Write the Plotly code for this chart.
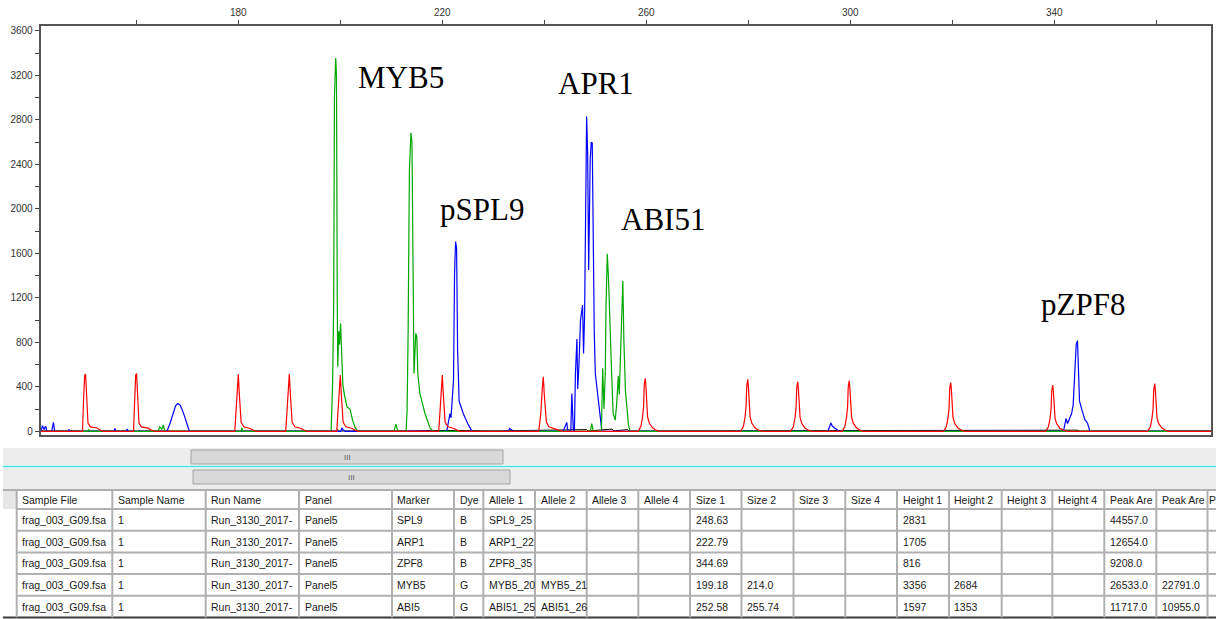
import plotly.graph_objects as go

W, H = 1216, 619

# ---------------- electropherogram data (size in bp, height in RFU) ----------------
red_size = [141.3,
    149.45, 149.67, 149.87, 150.05, 150.25, 150.4, 150.52, 151.0, 152.3, 153.0, 153.6,
    159.45, 159.67, 159.87, 160.05, 160.25, 160.4, 160.52, 161.0, 162.3, 163.0, 163.6,
    179.3, 179.6, 179.85, 180.0, 180.2, 180.35, 180.55, 181.1, 182.3, 183.0, 183.6,
    189.3, 189.6, 189.85, 190.0, 190.2, 190.35, 190.55, 191.1, 192.3, 193.0, 193.6,
    199.3, 199.6, 199.85, 200.0, 200.2, 200.35, 200.55, 201.1, 202.3, 203.0, 203.6,
    219.3, 219.6, 219.85, 220.0, 220.2, 220.35, 220.55, 221.1, 222.3, 223.0, 223.6,
    238.9, 239.3, 239.6, 239.8, 240.0, 240.2, 240.4, 240.9, 242.0, 242.8, 243.5,
    258.4, 258.95, 259.27, 259.47, 259.6, 259.8, 259.92, 260.06, 260.25, 260.58, 261.2, 261.9, 262.55,
    278.5, 279.05, 279.37, 279.57, 279.7, 279.9, 280.02, 280.16, 280.35, 280.68, 281.3, 282.0, 282.65,
    288.3, 288.85, 289.17, 289.37, 289.5, 289.7, 289.82, 289.96, 290.15, 290.48, 291.1, 291.8, 292.45,
    298.4, 298.95, 299.27, 299.47, 299.6, 299.8, 299.92, 300.06, 300.25, 300.58, 301.2, 301.9, 302.55,
    318.3, 318.85, 319.17, 319.37, 319.5, 319.7, 319.82, 319.96, 320.15, 320.48, 321.1, 321.8, 322.45,
    338.3, 338.85, 339.17, 339.37, 339.5, 339.7, 339.82, 339.96, 340.15, 340.48, 341.1, 341.8, 342.45,
    358.3, 358.85, 359.17, 359.37, 359.5, 359.7, 359.82, 359.96, 360.15, 360.48, 361.1, 361.8, 362.45,
    370.7]
red_rfu = [0,
    0, 300, 500, 515, 330, 180, 75, 40, 30, 10, 0,
    0, 300, 505, 520, 335, 180, 75, 40, 28, 10, 0,
    0, 200, 440, 512, 330, 180, 80, 40, 25, 8, 0,
    0, 200, 445, 515, 335, 180, 80, 40, 25, 8, 0,
    0, 195, 435, 505, 330, 175, 80, 40, 25, 8, 0,
    0, 195, 435, 505, 330, 175, 80, 40, 25, 8, 0,
    0, 150, 380, 490, 330, 175, 85, 40, 22, 8, 0,
    0, 45, 130, 225, 420, 476, 410, 225, 130, 75, 32, 10, 0,
    0, 45, 130, 225, 412, 467, 402, 225, 130, 75, 32, 10, 0,
    0, 43, 125, 215, 392, 446, 382, 215, 125, 72, 30, 10, 0,
    0, 44, 128, 220, 400, 455, 390, 220, 128, 73, 31, 10, 0,
    0, 42, 122, 210, 384, 437, 374, 210, 122, 70, 30, 10, 0,
    0, 40, 116, 200, 365, 416, 355, 200, 116, 67, 28, 9, 0,
    0, 41, 120, 206, 375, 428, 365, 206, 120, 69, 29, 9, 0,
    0]

blue_size = [141.3, 141.6, 141.9, 142.2, 142.5, 143.4, 143.75, 144.0, 146.5, 146.8, 147.1,
    155.6, 155.8, 156.0, 158.0, 158.2, 158.4,
    166.0, 166.6, 167.2, 167.7, 168.1, 168.6, 169.2, 169.7, 170.4,
    200.1, 200.3, 200.6, 200.9,
    220.86, 221.5, 221.7, 221.9, 222.2, 222.4, 222.6, 222.8, 223.0, 223.3, 224.1, 225.1, 225.8,
    232.9, 233.2, 233.6, 233.9,
    243.7, 244.4, 244.6, 245.2, 245.4, 245.7, 245.9, 246.1, 246.4, 246.55, 246.8, 247.1, 247.5,
    247.7, 247.9, 248.1, 248.3, 248.5, 248.7, 249.0, 249.2, 249.4, 249.6, 249.8, 250.0, 250.6, 251.3,
    295.6, 296.2, 296.5, 296.8, 297.2, 297.8,
    341.8, 342.3, 342.6, 343.1, 343.4, 343.7, 344.0, 344.3, 344.55, 344.75, 344.95, 345.4, 346.0,
    346.5, 347.0,
    370.7]
blue_rfu = [0, 50, 15, 45, 0, 0, 80, 0, 0, 15, 0,
    0, 25, 0, 0, 20, 0,
    0, 70, 170, 230, 250, 235, 170, 90, 0,
    0, 30, 10, 0,
    0, 160, 120, 230, 460, 1420, 1705, 1650, 730, 270, 160, 60, 0,
    0, 25, 15, 0,
    0, 80, 0, 0, 340, 0, 0, 520, 830, 380, 600, 1000, 1135,
    700, 1050, 2380, 2831, 2500, 1450, 2440, 2600, 2594, 1480, 880, 520, 250, 0,
    0, 75, 45, 35, 20, 0,
    0, 115, 70, 130, 160, 235, 490, 780, 816, 550, 270, 195, 105,
    75, 0,
    0]

green_size = [141.3, 150.5, 150.7, 150.9,
    164.3, 164.6, 165.0, 165.3, 165.6,
    180.5, 180.7, 180.9,
    198.2, 198.5, 198.7, 198.85, 199.1, 199.25, 199.4, 199.5, 199.7, 199.85, 200.05, 200.25,
    200.5, 200.8, 201.3, 201.9, 202.4, 202.9, 203.4,
    210.5, 210.9, 211.3,
    212.9, 213.1, 213.3, 213.55, 213.85, 214.05, 214.2, 214.3, 214.45, 214.8, 215.0, 215.2,
    215.6, 216.6, 217.6, 218.2,
    249.0, 249.3, 249.6,
    251.2, 251.45, 251.7, 251.96, 252.1, 252.35, 252.6, 252.9, 253.2, 253.5, 253.9, 254.2,
    254.5, 254.7, 255.0, 255.4, 255.6, 255.9, 256.5, 256.8,
    370.7]
green_rfu = [0, 0, 15, 0,
    0, 40, 20, 55, 0,
    0, 30, 0,
    0, 450, 1150, 3000, 3356, 3200, 1200, 580, 900, 780, 970, 640,
    420, 330, 220, 200, 100, 35, 0,
    0, 65, 0,
    0, 200, 900, 2350, 2684, 2600, 1630, 900, 520, 880, 850, 520,
    340, 160, 30, 0,
    0, 70, 0,
    0, 567, 200, 530, 1120, 1597, 1360, 880, 520, 160, 100, 250,
    500, 330, 820, 1353, 820, 370, 60, 0,
    0]

black_size = [141.3, 160.0, 180.0, 199.2, 199.5, 199.8, 214.0, 222.6, 230.0, 248.3, 248.6,
    253.3, 253.6, 256.3, 256.6, 300.0, 344.5, 345.0, 370.7]
black_rfu = [3, 5, 3, 3, 15, 3, 4, 8, 3, 15, 3, 20, 3, 15, 3, 4, 10, 3, 3]

# peak labels
peak_labels = ["MYB5", "APR1", "pSPL9", "ABI51", "pZPF8"]
label_size = [211.9, 250.1, 227.8, 263.2, 345.6]
label_rfu = [3182, 3126, 1999, 1903, 1140]

# ---------------- table data ----------------
table_headers = ["Sample File", "Sample Name", "Run Name", "Panel", "Marker", "Dye",
                 "Allele 1", "Allele 2", "Allele 3", "Allele 4", "Size 1", "Size 2",
                 "Size 3", "Size 4", "Height 1", "Height 2", "Height 3", "Height 4",
                 "Peak Are", "Peak Are", "P"]
sample_file = ["frag_003_G09.fsa"] * 5
sample_name = ["1"] * 5
run_name = ["Run_3130_2017-"] * 5
panel = ["Panel5"] * 5
marker = ["SPL9", "ARP1", "ZPF8", "MYB5", "ABI5"]
dye = ["B", "B", "B", "G", "G"]
allele_1 = ["SPL9_25", "ARP1_22", "ZPF8_35", "MYB5_20", "ABI51_25"]
allele_2 = ["", "", "", "MYB5_21", "ABI51_26"]
allele_3 = [""] * 5
allele_4 = [""] * 5
size_1 = ["248.63", "222.79", "344.69", "199.18", "252.58"]
size_2 = ["", "", "", "214.0", "255.74"]
size_3 = [""] * 5
size_4 = [""] * 5
height_1 = ["2831", "1705", "816", "3356", "1597"]
height_2 = ["", "", "", "2684", "1353"]
height_3 = [""] * 5
height_4 = [""] * 5
peak_area_1 = ["44557.0", "12654.0", "9208.0", "26533.0", "11717.0"]
peak_area_2 = ["", "", "", "22791.0", "10955.0"]
last_col = [""] * 5

table_columns = [sample_file, sample_name, run_name, panel, marker, dye, allele_1, allele_2,
                 allele_3, allele_4, size_1, size_2, size_3, size_4, height_1, height_2,
                 height_3, height_4, peak_area_1, peak_area_2, last_col]

# ---------------- figure ----------------
def fx(px):
    return px / W

def fy(py):
    return 1 - py / H

fig = go.Figure()
for xs, ys, col, wd in [(black_size, black_rfu, "#000000", 1.0),
                        (blue_size, blue_rfu, "#0000ff", 1.2),
                        (green_size, green_rfu, "#00a800", 1.2),
                        (red_size, red_rfu, "#ff0000", 1.2)]:
    fig.add_trace(go.Scatter(x=xs, y=ys, mode="lines", line=dict(color=col, width=wd),
                             showlegend=False, hoverinfo="skip"))

annotations = []
for t, xs, ys in zip(peak_labels, label_size, label_rfu):
    annotations.append(dict(x=xs, y=ys, xref="x", yref="y", text=t, showarrow=False,
                            xanchor="center", yanchor="middle",
                            font=dict(family="Liberation Serif, Times New Roman, serif",
                                      size=31, color="#000000")))

shapes = []
# bands under the chart (scroll areas)
shapes.append(dict(type="rect", xref="paper", yref="paper", x0=fx(3), x1=fx(1216),
                   y0=fy(465), y1=fy(448), fillcolor="#ededed", line=dict(width=0), layer="below"))
shapes.append(dict(type="rect", xref="paper", yref="paper", x0=fx(3), x1=fx(1216),
                   y0=fy(490), y1=fy(468), fillcolor="#ededed", line=dict(width=0), layer="below"))
shapes.append(dict(type="line", xref="paper", yref="paper", x0=fx(3), x1=fx(1216),
                   y0=fy(466.5), y1=fy(466.5), line=dict(color="#40dde6", width=1.5)))
# scrollbar thumbs
for x0, x1, y0, y1 in [(191, 503, 450, 464), (193, 510, 470, 484)]:
    shapes.append(dict(type="rect", xref="paper", yref="paper", x0=fx(x0), x1=fx(x1),
                       y0=fy(y1), y1=fy(y0), fillcolor="#d9d9d9",
                       line=dict(color="#a3a3a3", width=1)))
    annotations.append(dict(x=fx((x0 + x1) / 2), y=fy((y0 + y1) / 2), xref="paper", yref="paper",
                            text="III", showarrow=False, xanchor="center", yanchor="middle",
                            font=dict(family="Liberation Sans, Arial", size=8, color="#606060")))

# table
col_edges = [16.7, 112.3, 205.7, 299, 392, 454, 483.3, 535, 586.7, 638.3, 690, 741.5, 793.5,
             845.3, 897, 949, 1001.7, 1052.3, 1104.3, 1156.3, 1207.5, 1260]
row_edges = [490, 509, 530.7, 552.4, 574.1, 595.8, 617.5]

shapes.append(dict(type="rect", xref="paper", yref="paper", x0=fx(3), x1=fx(1216),
                   y0=fy(617.5), y1=fy(490), fillcolor="#ffffff", line=dict(width=0), layer="below"))
shapes.append(dict(type="rect", xref="paper", yref="paper", x0=fx(3), x1=fx(16.7),
                   y0=fy(509), y1=fy(490), fillcolor="#e6e6e6", line=dict(width=0), layer="below"))
for i, ry in enumerate(row_edges):
    if i == len(row_edges) - 1:
        shapes.append(dict(type="line", xref="paper", yref="paper", x0=fx(3), x1=fx(1216),
                           y0=fy(ry), y1=fy(ry), line=dict(color="#3a3a3a", width=2)))
    else:
        shapes.append(dict(type="line", xref="paper", yref="paper",
                           x0=fx(3 if i == 0 else 16.7), x1=fx(1216),
                           y0=fy(ry), y1=fy(ry), line=dict(color="#b0b0b0", width=2)))
for cx in col_edges[:-1]:
    shapes.append(dict(type="line", xref="paper", yref="paper", x0=fx(cx), x1=fx(cx),
                       y0=fy(row_edges[-1]), y1=fy(row_edges[0]),
                       line=dict(color="#b0b0b0", width=2)))

tfont = dict(family="Liberation Sans, Arial, sans-serif", size=10.5, color="#1a1a1a")
for j, head in enumerate(table_headers):
    cx = col_edges[j] + 3.5
    hy = fy((row_edges[0] + row_edges[1]) / 2)
    if j == len(table_headers) - 1:
        annotations.append(dict(x=fx(1215.5), y=hy, xref="paper", yref="paper", text=head,
                                showarrow=False, xanchor="right", yanchor="middle",
                                borderpad=0, borderwidth=0, font=tfont))
    else:
        annotations.append(dict(x=fx(cx), y=hy, xref="paper",
                                yref="paper", text=head, showarrow=False, xanchor="left",
                                yanchor="middle", font=tfont))
    for r in range(5):
        val = table_columns[j][r]
        if val:
            annotations.append(dict(x=fx(cx), y=fy((row_edges[r + 1] + row_edges[r + 2]) / 2),
                                    xref="paper", yref="paper", text=val, showarrow=False,
                                    xanchor="left", yanchor="middle", font=tfont))

axfont = dict(family="Liberation Sans, Arial, sans-serif", size=10, color="#333333")
fig.update_layout(
    width=W, height=H,
    margin=dict(l=0, r=0, t=0, b=0),
    paper_bgcolor="#ffffff", plot_bgcolor="#ffffff",
    showlegend=False,
    xaxis=dict(domain=[40.7 / W, 1211 / W], range=[141.25, 370.73], side="top",
               tickmode="linear", tick0=180, dtick=40, ticks="outside", ticklen=4,
               tickcolor="#444444", tickwidth=1, showline=True, linecolor="#555555",
               linewidth=2, mirror=True, showgrid=False, zeroline=False, tickfont=axfont,
               minor=dict(ticks="outside", ticklen=4, tickcolor="#444444", dtick=20, tick0=0,
                          showgrid=False),
               automargin=False, fixedrange=True),
    yaxis=dict(domain=[1 - 435 / H, 1 - 25.7 / H], range=[-33.3, 3647.5],
               tickmode="linear", tick0=0, dtick=400, ticks="outside", ticklen=4,
               tickcolor="#444444", tickwidth=1, showline=True, linecolor="#555555",
               linewidth=2, mirror=True, showgrid=False, zeroline=False, tickfont=axfont,
               minor=dict(ticks="outside", ticklen=4, tickcolor="#444444", dtick=200, tick0=0,
                          showgrid=False),
               automargin=False, fixedrange=True),
    shapes=shapes,
    annotations=annotations,
)

fig.write_html("out.html")
